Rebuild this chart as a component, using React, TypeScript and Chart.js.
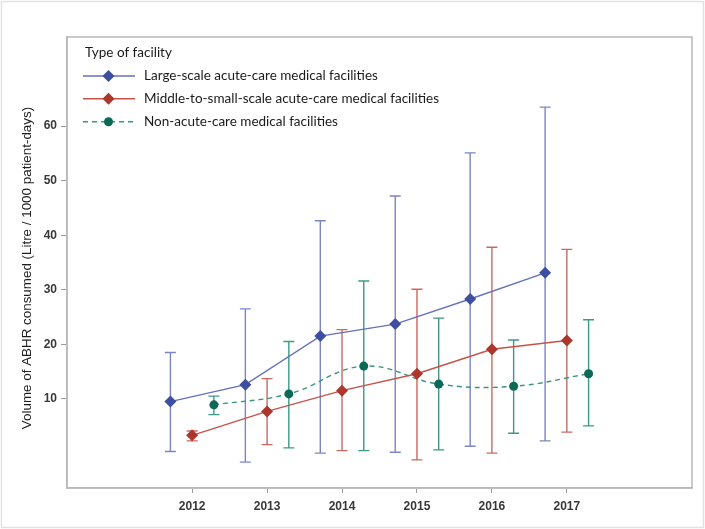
import React, { useEffect, useRef } from "react";
import { Chart, registerables } from "chart.js";

Chart.register(...registerables);

const years = [2012, 2013, 2014, 2015, 2016, 2017];
const yTicks = [10, 20, 30, 40, 50, 60];

const largeMean = [9.5, 12.6, 21.5, 23.7, 28.3, 33.1];
const largeLow = [0.35, -1.6, 0.05, 0.2, 1.3, 2.3];
const largeHigh = [18.5, 26.5, 42.65, 47.2, 55.1, 63.5];

const midMean = [3.3, 7.7, 11.5, 14.6, 19.1, 20.7];
const midLow = [2.3, 1.6, 0.5, -1.2, 0.05, 3.9];
const midHigh = [4.1, 13.7, 22.7, 30.1, 37.8, 37.4];

const nonMean = [8.9, 10.9, 16.0, 12.7, 12.3, 14.6];
const nonLow = [7.1, 1.0, 0.5, 0.65, 3.7, 5.05];
const nonHigh = [10.5, 20.5, 31.6, 24.8, 20.8, 24.5];

const seriesLabels = [
  "Large-scale acute-care medical facilities",
  "Middle-to-small-scale acute-care medical facilities",
  "Non-acute-care medical facilities",
];
const legendTitle = "Type of facility";
const yTitle = "Volume of ABHR consumed (Litre / 1000 patient-days)";

const OFFSET = 0.29;

const BLUE_LINE = "#6672ba";
const BLUE_MARK = "#3e4fa1";
const BLUE_ERR = "#7c86c5";
const RED_LINE = "#c4544a";
const RED_MARK = "#ad372c";
const RED_ERR = "#c96a62";
const GREEN_LINE = "#3a9580";
const GREEN_MARK = "#0b6957";
const GREEN_ERR = "#3e9a85";

export default function App() {
  const ref = useRef<HTMLCanvasElement | null>(null);

  useEffect(() => {
    if (!ref.current) return;

    const errSeries = [
      { off: -OFFSET, low: largeLow, high: largeHigh, color: BLUE_ERR },
      { off: 0, low: midLow, high: midHigh, color: RED_ERR },
      { off: OFFSET, low: nonLow, high: nonHigh, color: GREEN_ERR },
    ];

    const errorBars = {
      id: "errorBars",
      beforeDatasetsDraw(chart: any) {
        const { ctx, scales } = chart;
        const xs = scales.x;
        const ys = scales.y;
        ctx.save();
        errSeries.forEach((s) => {
          ctx.strokeStyle = s.color;
          ctx.lineWidth = 1.4;
          years.forEach((yr, i) => {
            const px = xs.getPixelForValue(yr + s.off);
            const pLow = ys.getPixelForValue(s.low[i]);
            const pHigh = ys.getPixelForValue(s.high[i]);
            ctx.beginPath();
            ctx.moveTo(px, pLow);
            ctx.lineTo(px, pHigh);
            ctx.moveTo(px - 5.5, pLow);
            ctx.lineTo(px + 5.5, pLow);
            ctx.moveTo(px - 5.5, pHigh);
            ctx.lineTo(px + 5.5, pHigh);
            ctx.stroke();
          });
        });
        ctx.restore();
      },
    };

    const decor = {
      id: "decor",
      afterDraw(chart: any) {
        const { ctx, chartArea } = chart;
        ctx.save();
        // outer border
        ctx.strokeStyle = "#e2e2e2";
        ctx.lineWidth = 1.5;
        ctx.strokeRect(1.5, 1.5, 702, 526);
        // plot frame
        ctx.strokeStyle = "#b8b8b8";
        ctx.lineWidth = 1.5;
        ctx.strokeRect(
          chartArea.left,
          chartArea.top,
          chartArea.right - chartArea.left,
          chartArea.bottom - chartArea.top
        );
        // y title
        ctx.save();
        ctx.translate(27, 268);
        ctx.rotate(-Math.PI / 2);
        ctx.fillStyle = "#1e1e1e";
        ctx.font = "13.4px 'Liberation Sans', Arial, sans-serif";
        ctx.textAlign = "center";
        ctx.textBaseline = "middle";
        ctx.fillText(yTitle, 0, 0);
        ctx.restore();

        // legend
        const fontL = "13.5px Lato, 'Noto Sans', sans-serif";
        ctx.fillStyle = "#1a1a1a";
        ctx.font = fontL;
        ctx.textAlign = "left";
        ctx.textBaseline = "middle";
        ctx.fillText(legendTitle, 85, 52.5);
        const rows = [
          { y: 76, line: BLUE_LINE, mark: BLUE_MARK, dash: [] as number[], shape: "diamond" },
          { y: 98.7, line: RED_LINE, mark: RED_MARK, dash: [] as number[], shape: "diamond" },
          { y: 121.7, line: GREEN_LINE, mark: GREEN_MARK, dash: [5, 4], shape: "circle" },
        ];
        rows.forEach((r, i) => {
          ctx.strokeStyle = r.line;
          ctx.lineWidth = 1.4;
          ctx.setLineDash(r.dash);
          ctx.beginPath();
          ctx.moveTo(83, r.y);
          ctx.lineTo(135, r.y);
          ctx.stroke();
          ctx.setLineDash([]);
          ctx.fillStyle = r.mark;
          ctx.beginPath();
          if (r.shape === "diamond") {
            const s = 6;
            ctx.moveTo(108.5, r.y - s);
            ctx.lineTo(108.5 + s, r.y);
            ctx.lineTo(108.5, r.y + s);
            ctx.lineTo(108.5 - s, r.y);
            ctx.closePath();
          } else {
            ctx.arc(108.5, r.y, 4.5, 0, Math.PI * 2);
          }
          ctx.fill();
          ctx.fillStyle = "#1a1a1a";
          ctx.font = fontL;
          ctx.fillText(seriesLabels[i], 144, r.y);
        });
        ctx.restore();
      },
    };

    const tickFont = { family: "'Liberation Sans', Arial, sans-serif", size: 12, weight: "bold" as const };

    const chart = new Chart(ref.current, {
      type: "line",
      data: {
        datasets: [
          {
            label: seriesLabels[0],
            data: years.map((yr, i) => ({ x: yr - OFFSET, y: largeMean[i] })),
            borderColor: BLUE_LINE,
            borderWidth: 1.4,
            pointStyle: "rectRot",
            pointRadius: 6,
            pointBackgroundColor: BLUE_MARK,
            pointBorderColor: BLUE_MARK,
            pointBorderWidth: 0,
            tension: 0,
          },
          {
            label: seriesLabels[1],
            data: years.map((yr, i) => ({ x: yr, y: midMean[i] })),
            borderColor: RED_LINE,
            borderWidth: 1.4,
            pointStyle: "rectRot",
            pointRadius: 6,
            pointBackgroundColor: RED_MARK,
            pointBorderColor: RED_MARK,
            pointBorderWidth: 0,
            tension: 0,
          },
          {
            label: seriesLabels[2],
            data: years.map((yr, i) => ({ x: yr + OFFSET, y: nonMean[i] })),
            borderColor: GREEN_LINE,
            borderWidth: 1.4,
            borderDash: [5, 4],
            pointStyle: "circle",
            pointRadius: 4.5,
            pointBackgroundColor: GREEN_MARK,
            pointBorderColor: GREEN_MARK,
            pointBorderWidth: 0,
            tension: 0.4,
          },
        ],
      },
      options: {
        animation: false,
        responsive: false,
        layout: { padding: { top: 37, right: 13, left: 0, bottom: 0 } },
        plugins: {
          legend: { display: false },
          tooltip: { enabled: false },
        },
        scales: {
          x: {
            type: "linear",
            min: 2010.33,
            max: 2018.67,
            afterBuildTicks: (s: any) => {
              s.ticks = years.map((v) => ({ value: v }));
            },
            afterFit: (s: any) => {
              s.height = 41;
            },
            ticks: {
              callback: (v: any) => String(v),
              font: tickFont,
              color: "#383838",
              padding: 6,
              maxRotation: 0,
            },
            grid: { drawOnChartArea: false, tickLength: 5, color: "#9a9a9a" },
            border: { color: "#b8b8b8", width: 1.5 },
          },
          y: {
            type: "linear",
            min: -6.35,
            max: 76.35,
            afterBuildTicks: (s: any) => {
              s.ticks = yTicks.map((v) => ({ value: v }));
            },
            afterFit: (s: any) => {
              s.width = 67;
            },
            ticks: {
              callback: (v: any) => String(v),
              font: tickFont,
              color: "#383838",
              padding: 4,
            },
            grid: { drawOnChartArea: false, tickLength: 6, color: "#9a9a9a" },
            border: { color: "#b8b8b8", width: 1.5 },
          },
        },
      },
      plugins: [errorBars, decor],
    });

    return () => chart.destroy();
  }, []);

  return (
    <div style={{ position: "absolute", left: 0, top: 0, width: 705, height: 529, background: "#fff" }}>
      <canvas ref={ref} width={705} height={529} style={{ display: "block" }} />
    </div>
  );
}
